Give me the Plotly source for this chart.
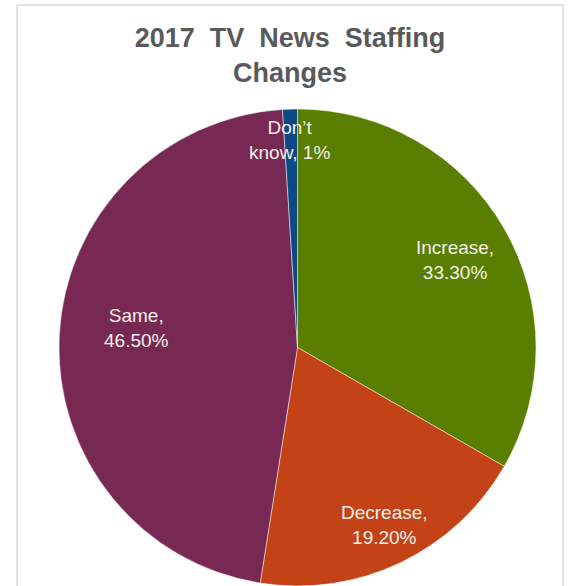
import math
import plotly.graph_objects as go

# Survey answers and shares (%), drawn clockwise from 12 o'clock
categories = ["Increase", "Decrease", "Same", "Don\u2019t know"]
shares = [33.3, 19.2, 46.5, 1.0]
slice_colors = ["#5a7f00", "#c44316", "#772953", "#0d4a85"]

# Label placement: radial distance as a fraction of the pie radius,
# and a small angular nudge (degrees) from the slice's mid-angle
label_radius = [0.755, 0.83, 0.68, 0.87]
label_nudge = [1.0, -0.6, 4.3, -0.4]
label_break = ["<br>", "<br>", "<br>", ", "]

title_words = ["2017", "TV", "News", "Staffing"]
title_second_line = "Changes"

W, H = 568, 586
M_L, M_T, M_B = 59, 109, 0
PLOT = H - M_T - M_B          # square plot area holding the pie
M_R = W - M_L - PLOT

FONT = "Arial, Liberation Sans, sans-serif"


def fmt_share(v):
    return f"{v:.0f}%" if float(v).is_integer() else f"{v:.2f}%"


fig = go.Figure(
    go.Pie(
        labels=categories,
        values=shares,
        sort=False,
        direction="clockwise",
        rotation=0,
        marker=dict(colors=slice_colors, line=dict(color="rgba(255,255,255,0.6)", width=0.8)),
        textinfo="none",
        hoverinfo="label+percent",
        showlegend=False,
        domain=dict(x=[0, 1], y=[0, 1]),
    )
)

# Data labels placed around each slice's mid-angle
total = sum(shares)
cum = 0.0
annotations = []
for name, v, rf, nudge, br in zip(categories, shares, label_radius, label_nudge, label_break):
    mid = (cum + v / 2) / total * 360.0 + nudge
    cum += v
    th = math.radians(mid)
    if br == ", ":
        words = name.split(" ")
        text = f"{words[0]}<br>{words[1]}, {fmt_share(v)}"
    else:
        text = f"{name},<br>{fmt_share(v)}"
    annotations.append(
        dict(
            x=0.5 + 0.5 * rf * math.sin(th),
            y=0.5 + 0.5 * rf * math.cos(th),
            xref="paper",
            yref="paper",
            text=text,
            showarrow=False,
            xanchor="center",
            yanchor="middle",
            align="center",
            font=dict(family=FONT, size=19, color="#f2efe4"),
        )
    )

# Light grey chart frame
def px_x(p):
    return (p - M_L) / PLOT


def px_y(p):
    return (H - M_B - p) / PLOT


fig.add_shape(
    type="rect",
    xref="paper",
    yref="paper",
    x0=px_x(17),
    x1=px_x(563),
    y0=px_y(600),
    y1=px_y(5),
    line=dict(color="#d9d9d9", width=1.5),
    fillcolor="rgba(0,0,0,0)",
    layer="below",
)

# Title set with slightly wider word gaps
title_text = "<b>" + "\u00a0 ".join(title_words) + "<br>" + title_second_line + "</b>"

fig.update_layout(
    width=W,
    height=H,
    margin=dict(l=M_L, r=M_R, t=M_T, b=M_B, pad=0),
    paper_bgcolor="white",
    plot_bgcolor="white",
    title=dict(
        text=title_text,
        font=dict(family=FONT, size=27, color="#595959"),
        x=px_x(290),
        xref="paper",
        xanchor="center",
        y=1 - 47 / H,
        yref="container",
        yanchor="top",
    ),
    annotations=annotations,
)

fig.write_html("out.html")
